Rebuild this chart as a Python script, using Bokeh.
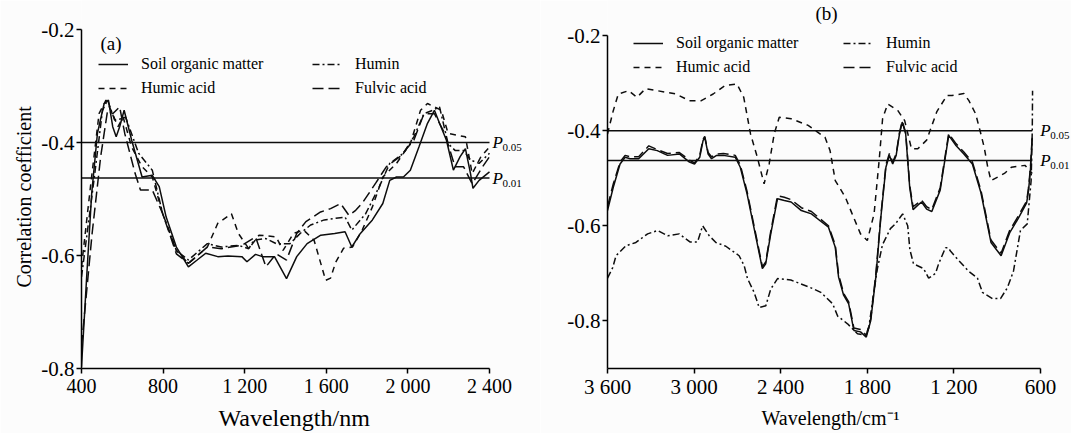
from bokeh.plotting import figure
from bokeh.models import Range1d, FixedTicker, Legend, LegendItem, Label, Title
from bokeh.layouts import row
from bokeh.embed import file_html
from bokeh.resources import INLINE

# ---------------- data: panel (a) Vis-NIR, wavelength / nm ----------------
som_a_x = [400, 425, 450, 478, 511, 532, 553, 570, 587, 609,
           646, 697, 747, 781, 815, 865, 924, 967, 1009, 1068,
           1118, 1186, 1211, 1253, 1287, 1346, 1405, 1455, 1506, 1573,
           1641, 1692, 1725, 1767, 1826, 1877, 1911, 1944, 1978, 2012,
           2054, 2096, 2130, 2155, 2189, 2223, 2256, 2282, 2307, 2319,
           2349, 2400]
som_a_y = [-0.797, -0.640, -0.490, -0.384, -0.331, -0.325, -0.372, -0.390, -0.372, -0.343,
           -0.396, -0.461, -0.458, -0.478, -0.532, -0.585, -0.620, -0.608, -0.596, -0.602,
           -0.601, -0.602, -0.611, -0.598, -0.602, -0.602, -0.641, -0.602, -0.579, -0.564,
           -0.561, -0.558, -0.585, -0.561, -0.537, -0.508, -0.467, -0.461, -0.461, -0.449,
           -0.408, -0.366, -0.343, -0.366, -0.396, -0.449, -0.425, -0.411, -0.455, -0.481,
           -0.467, -0.452]

humin_a_x = [400, 461, 503, 528, 562, 596, 616, 680, 747, 798,
             865, 924, 1017, 1085, 1169, 1220, 1245, 1304, 1354, 1422,
             1472, 1523, 1590, 1692, 1725, 1793, 1860, 1911, 1978, 2029,
             2079, 2121, 2155, 2197, 2231, 2273, 2307, 2349, 2400]
humin_a_y = [-0.638, -0.467, -0.343, -0.325, -0.360, -0.358, -0.355, -0.419, -0.449, -0.526,
             -0.591, -0.608, -0.579, -0.585, -0.582, -0.588, -0.573, -0.570, -0.579, -0.579,
             -0.561, -0.546, -0.537, -0.532, -0.555, -0.526, -0.478, -0.437, -0.419, -0.390,
             -0.349, -0.343, -0.337, -0.402, -0.414, -0.414, -0.431, -0.437, -0.419]

humic_a_x = [400, 444, 486, 520, 545, 579, 604, 646, 697, 747,
             798, 865, 924, 1017, 1068, 1135, 1169, 1220, 1270, 1354,
             1388, 1439, 1489, 1540, 1597, 1621, 1646, 1685, 1728, 1776,
             1826, 1877, 1944, 2012, 2062, 2096, 2164, 2197, 2282, 2315,
             2358, 2400]
humic_a_y = [-0.620, -0.478, -0.349, -0.325, -0.343, -0.372, -0.355, -0.408, -0.443, -0.461,
             -0.526, -0.591, -0.614, -0.585, -0.543, -0.526, -0.561, -0.588, -0.564, -0.567,
             -0.591, -0.561, -0.555, -0.573, -0.644, -0.640, -0.612, -0.587, -0.585, -0.555,
             -0.514, -0.461, -0.437, -0.402, -0.343, -0.331, -0.343, -0.384, -0.390, -0.455,
             -0.425, -0.408]

fulvic_a_x = [400, 452, 494, 528, 553, 587, 612, 663, 689, 747,
              798, 865, 924, 1017, 1085, 1186, 1253, 1304, 1354, 1405,
              1455, 1500, 1572, 1621, 1670, 1711, 1744, 1777, 1842, 1894,
              1961, 2029, 2079, 2130, 2181, 2231, 2273, 2315, 2366, 2400]
fulvic_a_y = [-0.760, -0.561, -0.425, -0.343, -0.349, -0.337, -0.384, -0.455, -0.484, -0.484,
              -0.526, -0.597, -0.614, -0.585, -0.588, -0.582, -0.567, -0.620, -0.597, -0.608,
              -0.561, -0.540, -0.523, -0.517, -0.508, -0.529, -0.520, -0.507, -0.472, -0.443,
              -0.425, -0.396, -0.349, -0.349, -0.384, -0.443, -0.443, -0.473, -0.443, -0.425]

# ---------------- data: panel (b) MIR, wavenumber / cm-1 ----------------
som_b_x = [3600, 3560, 3513, 3478, 3443, 3384, 3314, 3255, 3184, 3102,
           3032, 2997, 2961, 2938, 2926, 2903, 2879, 2844, 2797, 2715,
           2680, 2633, 2586, 2527, 2504, 2469, 2422, 2375, 2328, 2257,
           2187, 2116, 2069, 2022, 1999, 1964, 1929, 1893, 1847, 1807,
           1776, 1741, 1706, 1671, 1647, 1624, 1600, 1577, 1558, 1534,
           1506, 1483, 1448, 1424, 1389, 1353, 1295, 1236, 1189, 1131,
           1072, 1013, 943, 873, 814, 755, 696, 683, 670, 657]
som_b_y = [-0.568, -0.519, -0.470, -0.456, -0.459, -0.459, -0.438, -0.442, -0.452, -0.449,
           -0.466, -0.470, -0.456, -0.421, -0.414, -0.449, -0.459, -0.452, -0.452, -0.456,
           -0.477, -0.533, -0.603, -0.690, -0.680, -0.617, -0.543, -0.547, -0.550, -0.568,
           -0.575, -0.592, -0.603, -0.645, -0.708, -0.746, -0.764, -0.820, -0.823, -0.834,
           -0.799, -0.708, -0.582, -0.477, -0.452, -0.470, -0.452, -0.407, -0.382, -0.407,
           -0.520, -0.566, -0.556, -0.550, -0.565, -0.570, -0.525, -0.410, -0.430, -0.449,
           -0.470, -0.530, -0.635, -0.663, -0.615, -0.585, -0.552, -0.526, -0.484, -0.415]

fulvic_b_x = som_b_x
fulvic_b_y = [-0.560, -0.512, -0.466, -0.452, -0.455, -0.455, -0.432, -0.440, -0.448, -0.446,
              -0.462, -0.468, -0.452, -0.418, -0.412, -0.446, -0.455, -0.449, -0.448, -0.452,
              -0.472, -0.528, -0.598, -0.686, -0.676, -0.612, -0.537, -0.540, -0.545, -0.562,
              -0.570, -0.588, -0.600, -0.640, -0.702, -0.742, -0.760, -0.815, -0.818, -0.830,
              -0.795, -0.702, -0.578, -0.472, -0.448, -0.466, -0.449, -0.404, -0.380, -0.404,
              -0.515, -0.560, -0.552, -0.546, -0.560, -0.566, -0.520, -0.406, -0.426, -0.445,
              -0.466, -0.525, -0.630, -0.658, -0.610, -0.580, -0.548, -0.520, -0.478, -0.410]

humic_b_x = [3600, 3560, 3525, 3454, 3396, 3337, 3255, 3126, 3032, 2950,
             2868, 2785, 2703, 2656, 2609, 2562, 2515, 2480, 2445, 2410,
             2328, 2210, 2093, 2058, 2022, 1952, 1905, 1847, 1800, 1753,
             1718, 1694, 1659, 1588, 1541, 1494, 1450, 1389, 1318, 1248,
             1213, 1131, 1096, 1049, 1013, 990, 966, 943, 850, 802,
             708, 657]
humic_b_y = [-0.407, -0.358, -0.323, -0.316, -0.330, -0.312, -0.316, -0.323, -0.337, -0.337,
             -0.323, -0.305, -0.302, -0.330, -0.407, -0.456, -0.512, -0.470, -0.407, -0.372,
             -0.375, -0.389, -0.414, -0.442, -0.505, -0.540, -0.575, -0.617, -0.631, -0.575,
             -0.463, -0.375, -0.344, -0.358, -0.379, -0.438, -0.438, -0.420, -0.360, -0.326,
             -0.326, -0.322, -0.337, -0.365, -0.407, -0.435, -0.476, -0.505, -0.490, -0.477,
             -0.473, -0.490]

humin_b_x = [3600, 3564, 3541, 3472, 3403, 3322, 3253, 3183, 3103, 3029,
             2976, 2941, 2895, 2849, 2780, 2688, 2653, 2630, 2584, 2549,
             2503, 2469, 2422, 2330, 2261, 2170, 2122, 2040, 2005, 1937,
             1868, 1810, 1790, 1750, 1730, 1695, 1640, 1605, 1555, 1520,
             1505, 1480, 1410, 1375, 1327, 1306, 1258, 1240, 1224, 1175,
             1100, 1037, 1002, 933, 900, 877, 829, 787, 739, 692,
             665, 657, 655]
humin_b_y = [-0.710, -0.688, -0.663, -0.642, -0.635, -0.617, -0.610, -0.621, -0.617, -0.634,
             -0.634, -0.600, -0.621, -0.635, -0.643, -0.663, -0.684, -0.711, -0.740, -0.772,
             -0.768, -0.733, -0.711, -0.714, -0.722, -0.733, -0.740, -0.764, -0.790, -0.806,
             -0.827, -0.830, -0.815, -0.730, -0.690, -0.640, -0.606, -0.596, -0.575, -0.600,
             -0.650, -0.680, -0.690, -0.710, -0.700, -0.680, -0.646, -0.646, -0.653, -0.670,
             -0.695, -0.710, -0.740, -0.753, -0.753, -0.753, -0.730, -0.695, -0.610, -0.596,
             -0.505, -0.400, -0.316]

sig_levels = [-0.40, -0.463]
sig_names = ["0.05", "0.01"]

xticks_a = [400, 800, 1200, 1600, 2000, 2400]
xlabels_a = ["400", "800", "1 200", "1 600", "2 000", "2 400"]
xticks_b = [3600, 3000, 2400, 1800, 1200, 600]
xlabels_b = ["3 600", "3 000", "2 400", "1 800", "1 200", "600"]
yticks = [-0.8, -0.6, -0.4, -0.2]
ylabels = ["-0.8", "-0.6", "-0.4", "-0.2"]

FONT = "Liberation Serif"
BG = "#fcfcfc"
INK = "#0d0d0d"
LW = 1.5
DASH = {"som": "solid", "humin": "7 3 2 3", "humic": "6 5", "fulvic": "11 5"}

H = 433
BOTTOM = 65          # frame bottom at y = 368 in both panels; frames start at top 0

# ---- panel (a) geometry: axis 400..2400 spans 408 px; -0.2 sits 29 px below top
A_W, A_LEFT, A_TOP = 540, 81, 29
a_upp = (2400 - 400) / 408.0
a_x_end = 400 + (A_W - A_LEFT) * a_upp
a_y_upp = (0.8 - 0.2) / (H - BOTTOM - A_TOP)
a_y_top = -0.2 + A_TOP * a_y_upp

# ---- panel (b) geometry: axis 3600..600 spans 433 px; -0.2 sits 35 px below top
B_W, B_LEFT, B_TOP = 531, 67, 35
b_upp = (3600 - 600) / 433.0
b_x_end = 3600 - (B_W - B_LEFT) * b_upp
b_y_upp = (0.9 - 0.2) / (H - BOTTOM - B_TOP)
b_y_top = -0.2 + B_TOP * b_y_upp


def style(p, xt, xl, tick_font):
    p.xgrid.visible = False
    p.ygrid.visible = False
    p.outline_line_color = None
    p.background_fill_color = BG
    p.border_fill_color = BG
    p.xaxis.ticker = FixedTicker(ticks=xt)
    p.xaxis.major_label_overrides = {t: l for t, l in zip(xt, xl)}
    p.yaxis.ticker = FixedTicker(ticks=yticks)
    p.yaxis.major_label_overrides = {t: l for t, l in zip(yticks, ylabels)}
    for ax in (p.xaxis[0], p.yaxis[0]):
        ax.axis_line_color = "black"
        ax.axis_line_width = 1.5
        ax.major_tick_line_color = "black"
        ax.major_tick_line_width = 1.5
        ax.major_tick_in = 0
        ax.major_tick_out = 5
        ax.minor_tick_line_color = None
        ax.major_label_text_font = FONT
        ax.major_label_text_font_size = tick_font
        ax.major_label_text_color = "black"
    p.xaxis.major_label_standoff = 1
    p.yaxis.major_label_standoff = 2


def add_title(p, text, place, size, offset, standoff):
    # align="left" so that the offset (px from the frame's start edge) applies
    p.add_layout(Title(text=text, align="left", offset=offset, standoff=standoff,
                       text_font=FONT, text_font_size=size, text_font_style="normal",
                       text_color="black"), place)


def draw(p, series, xmin_line, xmax_line, label_x, label_off, col1, col2):
    rs = {}
    for key, (xs, ys) in series.items():
        rs[key] = p.line(xs, ys, line_color=INK, line_width=LW, line_dash=DASH[key])
    for lev, nm in zip(sig_levels, sig_names):
        p.line([xmin_line, xmax_line], [lev, lev], line_color=INK, line_width=1.5)
        p.add_layout(Label(x=label_x, y=lev, x_offset=label_off, text="P",
                           text_font=FONT, text_font_style="italic", text_font_size="17px",
                           text_baseline="middle", text_color="black"))
        p.add_layout(Label(x=label_x, y=lev, x_offset=label_off + 10, y_offset=-5, text=nm,
                           text_font=FONT, text_font_size="11px",
                           text_baseline="middle", text_color="black"))
    common = dict(border_line_color=None, background_fill_alpha=0, padding=5, margin=0,
                  spacing=0, glyph_width=30, glyph_height=24, label_height=24,
                  label_standoff=13, label_text_font=FONT, label_text_font_size="16px",
                  label_text_color="black")
    leg1 = Legend(items=[LegendItem(label="Soil organic matter", renderers=[rs["som"]]),
                         LegendItem(label="Humic acid", renderers=[rs["humic"]])],
                  location=col1, **common)
    leg2 = Legend(items=[LegendItem(label="Humin", renderers=[rs["humin"]]),
                         LegendItem(label="Fulvic acid", renderers=[rs["fulvic"]])],
                  location=col2, **common)
    p.add_layout(leg1)
    p.add_layout(leg2)


# ---------------- panel (a) ----------------
pa = figure(width=A_W, height=H, title=None,
            x_range=Range1d(400, a_x_end), y_range=Range1d(-0.8, a_y_top),
            output_backend="svg", toolbar_location=None,
            min_border_left=A_LEFT, min_border_right=0, min_border_top=0,
            min_border_bottom=BOTTOM)
style(pa, xticks_a, xlabels_a, "20px")
pa.yaxis.major_label_text_font_size = "21px"
pa.xaxis.bounds = (400, 2400)
pa.yaxis.bounds = (-0.8, -0.2)
add_title(pa, "Wavelength/nm", "below", "24px", 137, 6)
add_title(pa, "Correlation coefficient", "left", "20px", 81, 8)
draw(pa, {"som": (som_a_x, som_a_y), "humin": (humin_a_x, humin_a_y),
          "humic": (humic_a_x, humic_a_y), "fulvic": (fulvic_a_x, fulvic_a_y)},
     min(som_a_x), max(som_a_x), max(som_a_x), 3, (17, 268), (231, 268))
pa.add_layout(Label(x=19, y=325, x_units="screen", y_units="screen", text="(a)",
                    text_font=FONT, text_font_size="19px", text_baseline="middle",
                    text_color="black"))

# ---------------- panel (b) ----------------
pb = figure(width=B_W, height=H, title=None,
            x_range=Range1d(3600, b_x_end), y_range=Range1d(-0.9, b_y_top),
            output_backend="svg", toolbar_location=None,
            min_border_left=B_LEFT, min_border_right=0, min_border_top=0,
            min_border_bottom=BOTTOM)
style(pb, xticks_b, xlabels_b, "21px")
pb.xaxis.bounds = (600, 3600)
pb.yaxis.bounds = (-0.9, -0.2)
add_title(pb, "Wavelength/cm\u207b\u00b9", "below", "20px", 154, 6)
draw(pb, {"som": (som_b_x, som_b_y), "humin": (humin_b_x, humin_b_y),
          "humic": (humic_b_x, humic_b_y), "fulvic": (fulvic_b_x, fulvic_b_y)},
     max(som_b_x), min(som_b_x), min(som_b_x), 8, (26, 289), (236, 289))
pb.add_layout(Label(x=219, y=355, x_units="screen", y_units="screen", text="(b)",
                    text_font=FONT, text_font_size="19px", text_baseline="middle",
                    text_align="center", text_color="black"))

layout = row(pa, pb)
open("out.html", "w").write(file_html(layout, INLINE))
